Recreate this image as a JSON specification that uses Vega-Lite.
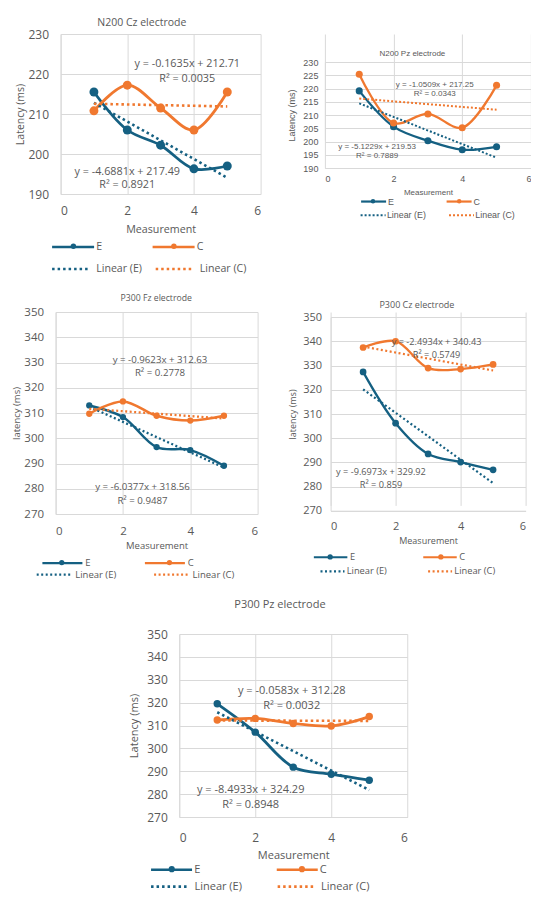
{
  "$schema": "https://vega.github.io/schema/vega-lite/v6.json",
  "background": "white",
  "padding": {"left": 11.25, "top": 17, "right": 0, "bottom": 0},
  "config": {
    "font": "Open Sans",
    "view": {"stroke": null},
    "axis": {
      "grid": true,
      "gridColor": "#d9d9d9",
      "domainColor": "#d9d9d9",
      "ticks": false,
      "labelColor": "#595959",
      "titleColor": "#595959",
      "titleFontWeight": "normal"
    },
    "title": {"color": "#595959", "fontWeight": "normal", "anchor": "middle", "frame": "bounds"},
    "legend": {"labelColor": "#595959", "symbolType": "stroke", "title": null, "direction": "horizontal", "orient": "none"}
  },
  "datasets": {
    "n200cz": [
      {"m": 1, "lat": 215.5, "s": "E"}, {"m": 2, "lat": 206, "s": "E"}, {"m": 3, "lat": 202.2, "s": "E"}, {"m": 4, "lat": 196.3, "s": "E"}, {"m": 5, "lat": 197, "s": "E"},
      {"m": 1, "lat": 210.8, "s": "C"}, {"m": 2, "lat": 217.2, "s": "C"}, {"m": 3, "lat": 211.5, "s": "C"}, {"m": 4, "lat": 206, "s": "C"}, {"m": 5, "lat": 215.5, "s": "C"},
      {"m": 1, "lat": 212.8, "s": "Linear (E)"}, {"m": 5, "lat": 194.05, "s": "Linear (E)"},
      {"m": 1, "lat": 212.55, "s": "Linear (C)"}, {"m": 5, "lat": 211.89, "s": "Linear (C)"}
    ],
    "n200cz_eq": [
      {"m": 3.8, "lat": 222.5, "t": "y = -0.1635x + 212.71"},
      {"m": 3.8, "lat": 218.75, "t": "R² = 0.0035"},
      {"m": 2.0, "lat": 195.5, "t": "y = -4.6881x + 217.49"},
      {"m": 2.0, "lat": 192.25, "t": "R² = 0.8921"}
    ],
    "n200pz": [
      {"m": 1, "lat": 219.1, "s": "E"}, {"m": 2, "lat": 205.6, "s": "E"}, {"m": 3, "lat": 200.3, "s": "E"}, {"m": 4, "lat": 196.9, "s": "E"}, {"m": 5, "lat": 198, "s": "E"},
      {"m": 1, "lat": 225.4, "s": "C"}, {"m": 2, "lat": 207, "s": "C"}, {"m": 3, "lat": 210.4, "s": "C"}, {"m": 4, "lat": 205.2, "s": "C"}, {"m": 5, "lat": 221.2, "s": "C"},
      {"m": 1, "lat": 214.4, "s": "Linear (E)"}, {"m": 5, "lat": 193.9, "s": "Linear (E)"},
      {"m": 1, "lat": 216.2, "s": "Linear (C)"}, {"m": 5, "lat": 212.0, "s": "Linear (C)"}
    ],
    "n200pz_eq": [
      {"m": 3.2, "lat": 221.3, "t": "y = -1.0509x + 217.25"},
      {"m": 3.2, "lat": 217.9, "t": "R² = 0.0343"},
      {"m": 1.52, "lat": 198.0, "t": "y = -5.1229x + 219.53"},
      {"m": 1.52, "lat": 194.6, "t": "R² = 0.7889"}
    ],
    "p300fz": [
      {"m": 1, "lat": 313.0, "s": "E"}, {"m": 2, "lat": 308.4, "s": "E"}, {"m": 3, "lat": 296.5, "s": "E"}, {"m": 4, "lat": 295.3, "s": "E"}, {"m": 5, "lat": 289.1, "s": "E"},
      {"m": 1, "lat": 309.7, "s": "C"}, {"m": 2, "lat": 314.6, "s": "C"}, {"m": 3, "lat": 308.9, "s": "C"}, {"m": 4, "lat": 307, "s": "C"}, {"m": 5, "lat": 308.9, "s": "C"},
      {"m": 1, "lat": 312.5, "s": "Linear (E)"}, {"m": 5, "lat": 288.4, "s": "Linear (E)"},
      {"m": 1, "lat": 311.67, "s": "Linear (C)"}, {"m": 5, "lat": 307.82, "s": "Linear (C)"}
    ],
    "p300fz_eq": [
      {"m": 3.1, "lat": 331.0, "t": "y = -0.9623x + 312.63"},
      {"m": 3.1, "lat": 325.7, "t": "R² = 0.2778"},
      {"m": 2.58, "lat": 280.6, "t": "y = -6.0377x + 318.56"},
      {"m": 2.58, "lat": 275.0, "t": "R² = 0.9487"}
    ],
    "p300cz": [
      {"m": 1, "lat": 327.4, "s": "E"}, {"m": 2, "lat": 306.2, "s": "E"}, {"m": 3, "lat": 293.5, "s": "E"}, {"m": 4, "lat": 290.1, "s": "E"}, {"m": 5, "lat": 286.9, "s": "E"},
      {"m": 1, "lat": 337.5, "s": "C"}, {"m": 2, "lat": 340.1, "s": "C"}, {"m": 3, "lat": 329, "s": "C"}, {"m": 4, "lat": 328.6, "s": "C"}, {"m": 5, "lat": 330.5, "s": "C"},
      {"m": 1, "lat": 320.2, "s": "Linear (E)"}, {"m": 5, "lat": 281.4, "s": "Linear (E)"},
      {"m": 1, "lat": 337.9, "s": "Linear (C)"}, {"m": 5, "lat": 328.0, "s": "Linear (C)"}
    ],
    "p300cz_eq": [
      {"m": 3.26, "lat": 339.9, "t": "y = -2.4934x + 340.43"},
      {"m": 3.26, "lat": 334.5, "t": "R² = 0.5749"},
      {"m": 1.55, "lat": 286.0, "t": "y = -9.6973x + 329.92"},
      {"m": 1.55, "lat": 280.7, "t": "R² = 0.859"}
    ],
    "p300pz": [
      {"m": 1, "lat": 319.5, "s": "E"}, {"m": 2, "lat": 307.1, "s": "E"}, {"m": 3, "lat": 291.8, "s": "E"}, {"m": 4, "lat": 288.7, "s": "E"}, {"m": 5, "lat": 286.1, "s": "E"},
      {"m": 1, "lat": 312.4, "s": "C"}, {"m": 2, "lat": 313.1, "s": "C"}, {"m": 3, "lat": 310.9, "s": "C"}, {"m": 4, "lat": 309.8, "s": "C"}, {"m": 5, "lat": 313.9, "s": "C"},
      {"m": 1, "lat": 315.8, "s": "Linear (E)"}, {"m": 5, "lat": 281.8, "s": "Linear (E)"},
      {"m": 1, "lat": 312.2, "s": "Linear (C)"}, {"m": 5, "lat": 312.0, "s": "Linear (C)"}
    ],
    "p300pz_eq": [
      {"m": 2.96, "lat": 325.0, "t": "y = -0.0583x + 312.28"},
      {"m": 2.96, "lat": 318.4, "t": "R² = 0.0032"},
      {"m": 1.88, "lat": 282.0, "t": "y = -8.4933x + 324.29"},
      {"m": 1.88, "lat": 275.3, "t": "R² = 0.8948"}
    ]
  },
  "resolve": {"scale": {"color": "independent"}, "legend": {"color": "independent"}},
  "spacing": 18,
  "center": true,
  "vconcat": [
    {
      "spacing": 19,
      "resolve": {"scale": {"color": "independent"}, "legend": {"color": "independent"}},
      "vconcat": [
        {
          "spacing": 26.3,
          "resolve": {"scale": {"color": "independent"}, "legend": {"color": "independent"}},
          "hconcat": [
            {
              "width": 205,
              "height": 160,
              "title": {"text": "N200 Cz electrode", "fontSize": 10.5, "offset": -0.3, "dx": 4},
              "data": {"name": "n200cz"},
              "resolve": {"scale": {"color": "independent"}},
              "encoding": {
                "x": {"field": "m", "type": "quantitative", "scale": {"domain": [0, 6], "range": [5, 205]},
                  "axis": {"values": [0, 2, 4, 6], "title": "Measurement", "labelFontSize": 12, "titleFontSize": 10.7, "labelPadding": 11, "titlePadding": 8}},
                "y": {"field": "lat", "type": "quantitative", "scale": {"domain": [190, 230], "zero": false},
                  "axis": {"values": [190, 200, 210, 220, 230], "title": "Latency (ms)", "offset": -5, "labelFontSize": 12, "titleFontSize": 10.5, "labelPadding": 12, "titlePadding": 3}}
              },
              "layer": [
                {
                  "transform": [{"filter": "datum.s === 'E' || datum.s === 'C'"}],
                  "mark": {"type": "line", "interpolate": "catmull-rom", "strokeWidth": 2.8},
                  "encoding": {
                    "color": {"field": "s", "type": "nominal", "scale": {"domain": ["E", "C"], "range": ["#156082", "#F0782F"]},
                      "legend": {"legendX": -5, "legendY": 190, "columnPadding": 44.5, "symbolSize": 1764, "symbolStrokeWidth": 2.6, "labelFontSize": 10.6, "labelOffset": 0.6}}
                  }
                },
                {
                  "transform": [{"filter": "datum.s === 'E' || datum.s === 'C'"}],
                  "mark": {"type": "circle", "size": 80, "opacity": 1},
                  "encoding": {
                    "color": {"field": "s", "type": "nominal", "scale": {"domain": ["E", "C"], "range": ["#156082", "#F0782F"]},
                      "legend": {"symbolType": "circle", "symbolSize": 30, "labelExpr": "''", "labelOffset": 0, "labelFontSize": 1, "legendX": 14.3, "legendY": 208.3, "columnPadding": 93.5}}
                  }
                },
                {
                  "transform": [{"filter": "datum.s === 'Linear (E)' || datum.s === 'Linear (C)'"}],
                  "mark": {"type": "line", "strokeWidth": 2.6, "strokeDash": [2.5, 3]},
                  "encoding": {
                    "color": {"field": "s", "type": "nominal", "scale": {"domain": ["Linear (E)", "Linear (C)"], "range": ["#156082", "#F0782F"]},
                      "legend": {"legendX": -5, "legendY": 214, "columnPadding": 7.6, "symbolSize": 1444, "symbolStrokeWidth": 2.6, "symbolDash": [2.5, 3], "labelFontSize": 10.6, "labelOffset": 4.6}}
                  }
                },
                {
                  "data": {"name": "n200cz_eq"},
                  "mark": {"type": "text", "fontSize": 10.8, "color": "#595959", "align": "center", "baseline": "middle"},
                  "encoding": {"text": {"field": "t", "type": "nominal"}}
                }
              ]
            },
            {
              "width": 206,
              "height": 134,
              "title": {"text": "N200 Pz electrode", "fontSize": 8, "font": "Liberation Sans", "offset": -23.5, "dx": 3},
              "data": {"name": "n200pz"},
              "resolve": {"scale": {"color": "independent"}},
              "encoding": {
                "x": {"field": "m", "type": "quantitative", "scale": {"domain": [0, 6]},
                  "axis": {"values": [0, 2, 4, 6], "title": "Measurement", "labelFont": "Liberation Sans", "titleFont": "Liberation Sans", "labelFontSize": 9, "titleFontSize": 8, "labelPadding": 6, "titlePadding": 5}},
                "y": {"field": "lat", "type": "quantitative", "scale": {"domain": [190, 230], "zero": false, "range": [134, 28]},
                  "axis": {"values": [190, 195, 200, 205, 210, 215, 220, 225, 230], "title": "Latency (ms)", "labelFont": "Liberation Sans", "titleFont": "Liberation Sans", "labelFontSize": 9, "titleFontSize": 9, "labelPadding": 7, "titlePadding": 6}}
              },
              "layer": [
                {
                  "transform": [{"filter": "datum.s === 'E' || datum.s === 'C'"}],
                  "mark": {"type": "line", "interpolate": "catmull-rom", "strokeWidth": 2.3},
                  "encoding": {
                    "color": {"field": "s", "type": "nominal", "scale": {"domain": ["E", "C"], "range": ["#156082", "#F0782F"]},
                      "legend": {"legendX": 34.7, "legendY": 153.5, "columnPadding": 47.5, "symbolSize": 625, "symbolStrokeWidth": 2.2, "labelFontSize": 8.9, "labelFont": "Liberation Sans", "labelOffset": 0.3}}
                  }
                },
                {
                  "transform": [{"filter": "datum.s === 'E' || datum.s === 'C'"}],
                  "mark": {"type": "circle", "size": 50, "opacity": 1},
                  "encoding": {
                    "color": {"field": "s", "type": "nominal", "scale": {"domain": ["E", "C"], "range": ["#156082", "#F0782F"]},
                      "legend": {"symbolType": "circle", "symbolSize": 20, "labelExpr": "''", "labelOffset": 0, "labelFontSize": 1, "legendX": 45.1, "legendY": 163.8, "columnPadding": 80.2}}
                  }
                },
                {
                  "transform": [{"filter": "datum.s === 'Linear (E)' || datum.s === 'Linear (C)'"}],
                  "mark": {"type": "line", "strokeWidth": 2, "strokeDash": [2, 2]},
                  "encoding": {
                    "color": {"field": "s", "type": "nominal", "scale": {"domain": ["Linear (E)", "Linear (C)"], "range": ["#156082", "#F0782F"]},
                      "legend": {"legendX": 34.7, "legendY": 167.5, "columnPadding": 18.4, "symbolSize": 625, "symbolStrokeWidth": 2, "symbolDash": [2, 2], "labelFontSize": 8.9, "labelFont": "Liberation Sans", "labelOffset": 0.3}}
                  }
                },
                {
                  "data": {"name": "n200pz_eq"},
                  "mark": {"type": "text", "fontSize": 8, "font": "Liberation Sans", "color": "#595959", "align": "center", "baseline": "middle"},
                  "encoding": {"text": {"field": "t", "type": "nominal"}}
                }
              ]
            }
          ]
        },
        {
          "spacing": 30,
          "resolve": {"scale": {"color": "independent"}, "legend": {"color": "independent"}},
          "hconcat": [
            {
              "width": 202,
              "height": 202,
              "title": {"text": "P300 Fz electrode", "fontSize": 8.7, "offset": 3, "dx": 21.5},
              "data": {"name": "p300fz"},
              "resolve": {"scale": {"color": "independent"}},
              "encoding": {
                "x": {"field": "m", "type": "quantitative", "scale": {"domain": [0, 6]},
                  "axis": {"values": [0, 2, 4, 6], "title": "Measurement", "labelFontSize": 11.5, "titleFontSize": 9.5, "labelPadding": 11, "titlePadding": 4}},
                "y": {"field": "lat", "type": "quantitative", "scale": {"domain": [270, 350], "zero": false},
                  "axis": {"values": [270, 280, 290, 300, 310, 320, 330, 340, 350], "title": "latency (ms)", "labelFontSize": 11.5, "titleFontSize": 9.5, "labelPadding": 12, "titlePadding": 2}}
              },
              "layer": [
                {
                  "transform": [{"filter": "datum.s === 'E' || datum.s === 'C'"}],
                  "mark": {"type": "line", "interpolate": "catmull-rom", "strokeWidth": 2.5},
                  "encoding": {
                    "color": {"field": "s", "type": "nominal", "scale": {"domain": ["E", "C"], "range": ["#156082", "#F0782F"]},
                      "legend": {"legendX": -14.7, "legendY": 229.3, "columnPadding": 48.5, "symbolSize": 1600, "symbolStrokeWidth": 2.4, "labelFontSize": 9.5, "labelOffset": 1.3}}
                  }
                },
                {
                  "transform": [{"filter": "datum.s === 'E' || datum.s === 'C'"}],
                  "mark": {"type": "circle", "size": 40, "opacity": 1},
                  "encoding": {
                    "color": {"field": "s", "type": "nominal", "scale": {"domain": ["E", "C"], "range": ["#156082", "#F0782F"]},
                      "legend": {"symbolType": "circle", "symbolSize": 28, "labelExpr": "''", "labelOffset": 0, "labelFontSize": 1, "legendX": 2.65, "legendY": 246.6, "columnPadding": 100.7}}
                  }
                },
                {
                  "transform": [{"filter": "datum.s === 'Linear (E)' || datum.s === 'Linear (C)'"}],
                  "mark": {"type": "line", "strokeWidth": 2.3, "strokeDash": [2, 2.5]},
                  "encoding": {
                    "color": {"field": "s", "type": "nominal", "scale": {"domain": ["Linear (E)", "Linear (C)"], "range": ["#156082", "#F0782F"]},
                      "legend": {"legendX": -20.4, "legendY": 242.7, "columnPadding": 31.4, "symbolSize": 1296, "symbolStrokeWidth": 2.3, "symbolDash": [2, 2.5], "labelFontSize": 9.5, "labelOffset": 1}}
                  }
                },
                {
                  "data": {"name": "p300fz_eq"},
                  "mark": {"type": "text", "fontSize": 9.7, "color": "#595959", "align": "center", "baseline": "middle"},
                  "encoding": {"text": {"field": "t", "type": "nominal"}}
                }
              ]
            },
            {
              "width": 195,
              "height": 198.7,
              "title": {"text": "P300 Cz electrode", "fontSize": 9, "offset": 1, "dx": 10},
              "data": {"name": "p300cz"},
              "resolve": {"scale": {"color": "independent"}},
              "encoding": {
                "x": {"field": "m", "type": "quantitative", "scale": {"domain": [0, 6]},
                  "axis": {"values": [0, 2, 4, 6], "title": "Measurement", "labelFontSize": 11, "titleFontSize": 9, "labelPadding": 10, "titlePadding": 5}},
                "y": {"field": "lat", "type": "quantitative", "scale": {"domain": [270, 350], "zero": false, "range": [198.7, 5.3]},
                  "axis": {"values": [270, 280, 290, 300, 310, 320, 330, 340, 350], "title": "latency (ms)", "labelFontSize": 11, "titleFontSize": 9, "labelPadding": 9, "titlePadding": 5.5}}
              },
              "layer": [
                {
                  "transform": [{"filter": "datum.s === 'E' || datum.s === 'C'"}],
                  "mark": {"type": "line", "interpolate": "catmull-rom", "strokeWidth": 2.3},
                  "encoding": {
                    "color": {"field": "s", "type": "nominal", "scale": {"domain": ["E", "C"], "range": ["#156082", "#F0782F"]},
                      "legend": {"legendX": -18, "legendY": 226.9, "columnPadding": 62.4, "symbolSize": 1122, "symbolStrokeWidth": 2.2, "labelFontSize": 9.3, "labelOffset": 1.3}}
                  }
                },
                {
                  "transform": [{"filter": "datum.s === 'E' || datum.s === 'C'"}],
                  "mark": {"type": "circle", "size": 45, "opacity": 1},
                  "encoding": {
                    "color": {"field": "s", "type": "nominal", "scale": {"domain": ["E", "C"], "range": ["#156082", "#F0782F"]},
                      "legend": {"symbolType": "circle", "symbolSize": 28, "labelExpr": "''", "labelOffset": 0, "labelFontSize": 1, "legendX": -3.95, "legendY": 241, "columnPadding": 103.7}}
                  }
                },
                {
                  "transform": [{"filter": "datum.s === 'Linear (E)' || datum.s === 'Linear (C)'"}],
                  "mark": {"type": "line", "strokeWidth": 2.2, "strokeDash": [2, 2.5]},
                  "encoding": {
                    "color": {"field": "s", "type": "nominal", "scale": {"domain": ["Linear (E)", "Linear (C)"], "range": ["#156082", "#F0782F"]},
                      "legend": {"legendX": -11.6, "legendY": 245.7, "columnPadding": 36.6, "symbolSize": 576, "symbolStrokeWidth": 2.2, "symbolDash": [2, 2.5], "labelFontSize": 9.3, "labelOffset": 0.7}}
                  }
                },
                {
                  "data": {"name": "p300cz_eq"},
                  "mark": {"type": "text", "fontSize": 9.2, "color": "#595959", "align": "center", "baseline": "middle"},
                  "encoding": {"text": {"field": "t", "type": "nominal"}}
                }
              ]
            }
          ]
        }
      ]
    },
    {
      "width": 228,
      "height": 183,
      "title": {"text": "P300 Pz electrode", "fontSize": 11, "offset": 18.4, "dx": 12},
      "data": {"name": "p300pz"},
      "resolve": {"scale": {"color": "independent"}},
      "encoding": {
        "x": {"field": "m", "type": "quantitative", "scale": {"domain": [0, 6]},
          "axis": {"values": [0, 2, 4, 6], "title": "Measurement", "labelFontSize": 12, "titleFontSize": 11, "labelPadding": 15, "titlePadding": 6}},
        "y": {"field": "lat", "type": "quantitative", "scale": {"domain": [270, 350], "zero": false},
          "axis": {"values": [270, 280, 290, 300, 310, 320, 330, 340, 350], "title": "Latency (ms)", "labelFontSize": 12, "titleFontSize": 11, "labelPadding": 12, "titlePadding": 7}}
      },
      "layer": [
        {
          "transform": [{"filter": "datum.s === 'E' || datum.s === 'C'"}],
          "mark": {"type": "line", "interpolate": "catmull-rom", "strokeWidth": 2.8},
          "encoding": {
            "color": {"field": "s", "type": "nominal", "scale": {"domain": ["E", "C"], "range": ["#156082", "#F0782F"]},
              "legend": {"legendX": -29.7, "legendY": 213.3, "columnPadding": 70.7, "symbolSize": 1681, "symbolStrokeWidth": 2.6, "labelFontSize": 11, "labelOffset": 0.6}}
          }
        },
        {
          "transform": [{"filter": "datum.s === 'E' || datum.s === 'C'"}],
          "mark": {"type": "circle", "size": 55, "opacity": 1},
          "encoding": {
            "color": {"field": "s", "type": "nominal", "scale": {"domain": ["E", "C"], "range": ["#156082", "#F0782F"]},
              "legend": {"symbolType": "circle", "symbolSize": 38, "labelExpr": "''", "labelOffset": 0, "labelFontSize": 1, "legendX": -11.5, "legendY": 230.7, "columnPadding": 122.2}}
          }
        },
        {
          "transform": [{"filter": "datum.s === 'Linear (E)' || datum.s === 'Linear (C)'"}],
          "mark": {"type": "line", "strokeWidth": 2.6, "strokeDash": [2.5, 3]},
          "encoding": {
            "color": {"field": "s", "type": "nominal", "scale": {"domain": ["Linear (E)", "Linear (C)"], "range": ["#156082", "#F0782F"]},
              "legend": {"legendX": -29.7, "legendY": 232, "columnPadding": 29.6, "symbolSize": 1444, "symbolStrokeWidth": 2.6, "symbolDash": [2.5, 3], "labelFontSize": 11, "labelOffset": 3.9}}
          }
        },
        {
          "data": {"name": "p300pz_eq"},
          "mark": {"type": "text", "fontSize": 11, "color": "#595959", "align": "center", "baseline": "middle"},
          "encoding": {"text": {"field": "t", "type": "nominal"}}
        }
      ]
    }
  ]
}
